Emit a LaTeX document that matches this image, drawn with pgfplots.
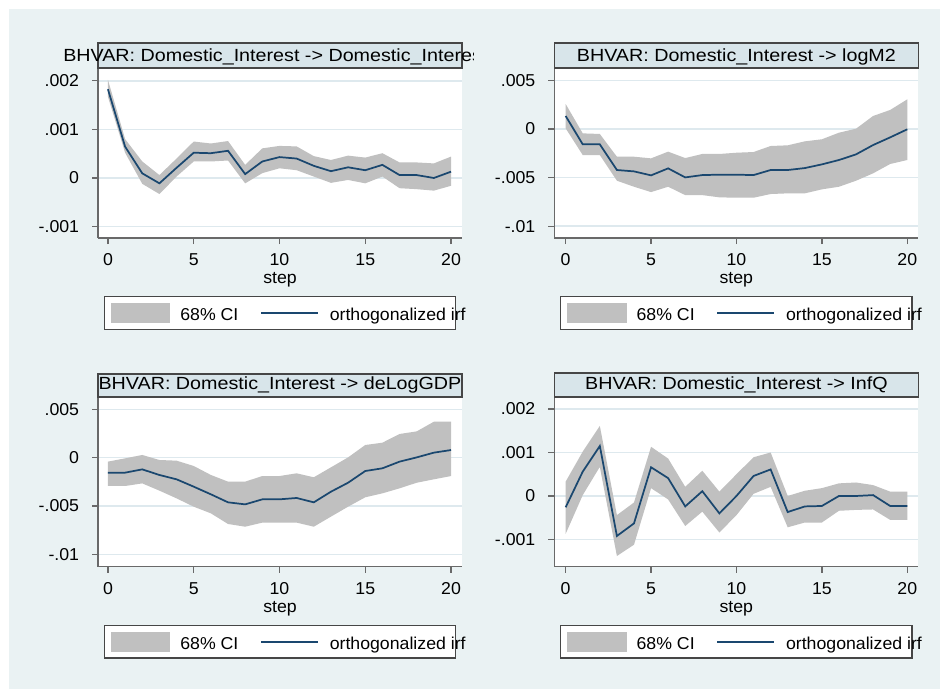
\documentclass[border=0pt]{standalone}
\usepackage{fontspec}
\setmainfont{Liberation Sans}[FakeStretch=1.03]
\newfontfamily\titlefont{Liberation Sans}[FakeStretch=1.12]
\usepackage{pgfplots}
\pgfplotsset{compat=1.18}
\usepackage{pgfplotstable}
\usepgfplotslibrary{fillbetween}

\definecolor{bgblue}{RGB}{234,242,243}
\definecolor{titlefill}{RGB}{216,229,234}
\definecolor{cigray}{RGB}{192,192,192}
\definecolor{irfblue}{RGB}{26,71,111}
\definecolor{axisgray}{RGB}{105,105,105}
\definecolor{boxgray}{RGB}{70,70,70}
\definecolor{gridblue}{RGB}{222,233,238}
\pagecolor{bgblue}

\newcommand\chartfont{\fontsize{12.9pt}{15pt}\selectfont}
\newcommand\ttlfont{\titlefont\fontsize{13.2pt}{15pt}\selectfont}

\pgfplotstableread{
step irf lo hi
0 0.001826 0.00167 0.00202
1 0.000645 0.00052 0.00080
2 0.000096 -0.00012 0.00034
3 -0.00011 -0.00033 0.00006
4 0.00021 0.00003 0.00040
5 0.00052 0.00034 0.00075
6 0.00051 0.00034 0.00071
7 0.00056 0.00036 0.00076
8 0.00008 -0.00011 0.00027
9 0.00034 0.00010 0.00061
10 0.00043 0.00020 0.00066
11 0.00040 0.00016 0.00065
12 0.00025 0.00003 0.00045
13 0.00014 -0.00010 0.00037
14 0.00022 -0.00004 0.00046
15 0.00016 -0.00011 0.00042
16 0.00027 0.00003 0.00051
17 0.00006 -0.00021 0.00032
18 0.00006 -0.00023 0.00032
19 0.00000 -0.00026 0.00030
20 0.00013 -0.00016 0.00044
}\dataA

\pgfplotstableread{
step irf lo hi
0 0.00134 0.00007 0.00257
1 -0.00158 -0.00268 -0.00045
2 -0.00158 -0.00268 -0.00051
3 -0.00422 -0.00532 -0.00285
4 -0.00436 -0.00594 -0.00285
5 -0.00477 -0.00649 -0.00302
6 -0.00405 -0.00594 -0.00233
7 -0.00498 -0.00680 -0.00299
8 -0.00474 -0.00680 -0.00257
9 -0.00470 -0.00703 -0.00257
10 -0.00470 -0.00707 -0.00244
11 -0.00474 -0.00707 -0.00237
12 -0.00422 -0.00669 -0.00175
13 -0.00422 -0.00662 -0.00168
14 -0.00402 -0.00662 -0.00127
15 -0.00364 -0.00621 -0.00106
16 -0.00319 -0.00594 -0.00038
17 -0.00261 -0.00532 0.00003
18 -0.00165 -0.00456 0.00134
19 -0.00086 -0.00360 0.00196
20 -0.00003 -0.00319 0.00305
}\dataB

\pgfplotstableread{
step irf lo hi
0 -0.00155 -0.00293 -0.00041
1 -0.00155 -0.00293 -0.00007
2 -0.00121 -0.00266 0.00028
3 -0.00179 -0.00341 -0.00024
4 -0.00224 -0.00421 -0.00031
5 -0.00300 -0.00507 -0.00086
6 -0.00379 -0.00576 -0.00179
7 -0.00462 -0.00686 -0.00248
8 -0.00483 -0.00714 -0.00248
9 -0.00431 -0.00672 -0.00190
10 -0.00431 -0.00672 -0.00190
11 -0.00417 -0.00672 -0.00162
12 -0.00462 -0.00714 -0.00203
13 -0.00352 -0.00610 -0.00100
14 -0.00259 -0.00507 0.00003
15 -0.00138 -0.00410 0.00131
16 -0.00110 -0.00369 0.00155
17 -0.00041 -0.00317 0.00245
18 0.00003 -0.00259 0.00272
19 0.00052 -0.00224 0.00372
20 0.00079 -0.00190 0.00372
}\dataC

\pgfplotstableread{
step irf lo hi
0 -0.00026 -0.00087 0.00033
1 0.00056 0.00002 0.00102
2 0.00115 0.00067 0.00161
3 -0.00092 -0.00138 -0.00044
4 -0.00063 -0.00112 -0.00015
5 0.00066 0.00018 0.00113
6 0.00041 -0.00008 0.00086
7 -0.00024 -0.00069 0.00021
8 0.00011 -0.00036 0.00058
9 -0.00040 -0.00084 0.00010
10 0.00000 -0.00044 0.00050
11 0.00046 0.00005 0.00089
12 0.00061 0.00021 0.00100
13 -0.00037 -0.00072 0.00000
14 -0.00024 -0.00061 0.00012
15 -0.00023 -0.00061 0.00018
16 0.00000 -0.00034 0.00029
17 0.00000 -0.00032 0.00031
18 0.00002 -0.00031 0.00025
19 -0.00023 -0.00055 0.00010
20 -0.00023 -0.00055 0.00010
}\dataD

\pgfplotsset{
  irfaxis/.style={
    scale only axis, width=273pt, height=126.75pt, anchor=south west,
    axis lines=left, axis line style={-, draw=axisgray, line width=1.1pt},
    axis background/.style={fill=white},
    tick align=outside, major tick length=4.5pt,
    tick style={draw=axisgray, line width=1pt},
    ymajorgrids, grid style={draw=gridblue, line width=1.1pt},
    xtick={0,5,10,15,20}, xticklabels={0,5,10,15,20},
    minor tick num=0, scaled y ticks=false, scaled x ticks=false,
    tick label style={font=\chartfont},
    yticklabel style={anchor=east, inner sep=0pt, xshift=-9.5pt},
    xticklabel style={anchor=north, inner sep=0pt, yshift=-7pt},
    xlabel={step},
    xlabel style={font=\chartfont, at={(axis description cs:0.5,-0.246)}, anchor=center},
    legend columns=2,
    legend style={at={(0.5,-0.344)}, anchor=north, draw=boxgray, line width=1pt,
      fill=white, inner xsep=5pt, inner ysep=4.7pt, column sep=0pt, row sep=0pt,
      font=\chartfont, cells={anchor=base west}, nodes={inner sep=0pt}},
  },
}

\newcommand\irflegend{%
  \addlegendimage{legend image code/.code={\fill[cigray] (0pt,-1.3pt) rectangle (43.5pt,12.75pt); \path (51pt,0pt);}}
  \addlegendentry{68\% CI}
  \addlegendimage{legend image code/.code={\path (0pt,0pt); \draw[irfblue, line width=1.3pt] (16.5pt,5.8pt) -- (59.25pt,5.8pt); \path (67.5pt,0pt);}}
  \addlegendentry{orthogonalized irf\hspace*{-12.5pt}}
}

\begin{document}
\begin{tikzpicture}
\path (0pt,0pt) rectangle (705pt,-516.75pt);
\fill[white] (0pt,0pt) rectangle (705pt,-6.75pt);
\fill[white] (0pt,0pt) rectangle (6.75pt,-516.75pt);

% title boxes
\filldraw[fill=titlefill, draw=boxgray, line width=1pt] (73.5pt,-32.25pt) rectangle (346.5pt,-51pt);
\filldraw[fill=titlefill, draw=boxgray, line width=1pt] (415.7pt,-32.25pt) rectangle (688.9pt,-51pt);
\filldraw[fill=titlefill, draw=boxgray, line width=1pt] (73.5pt,-280.5pt) rectangle (346.5pt,-297.75pt);
\filldraw[fill=titlefill, draw=boxgray, line width=1pt] (415.7pt,-279.75pt) rectangle (688.9pt,-297.75pt);

\begin{scope}
\clip (0pt,0pt) rectangle (355pt,-100pt);
\node[anchor=base west, inner sep=0pt] at (47.25pt,-46.3pt) {\ttlfont BHVAR: Domestic\_Interest -> Domestic\_Interest};
\end{scope}
\node[anchor=base, inner sep=0pt] at (552.3pt,-46.3pt) {\ttlfont BHVAR: Domestic\_Interest -> logM2};
\node[anchor=base, inner sep=0pt] at (210pt,-292pt) {\ttlfont BHVAR: Domestic\_Interest -> deLogGDP};
\node[anchor=base, inner sep=0pt] at (552.3pt,-292pt) {\ttlfont BHVAR: Domestic\_Interest -> InfQ};

% panel 1
\begin{axis}[irfaxis, at={(73.5pt,-178.5pt)},
  xmin=-0.58, xmax=20.64, ymin=-0.001235, ymax=0.002243,
  ytick={-0.001,0,0.001,0.002}, yticklabels={-.001,0,.001,.002}]
  \addplot[draw=none, name path=hiA, forget plot] table[x=step,y=hi]{\dataA};
  \addplot[draw=none, name path=loA, forget plot] table[x=step,y=lo]{\dataA};
  \addplot[fill=cigray, draw=none, forget plot] fill between[of=hiA and loA];
  \addplot[irfblue, line width=1.3pt, forget plot] table[x=step,y=irf]{\dataA};
  \irflegend
\end{axis}

% panel 2
\begin{axis}[irfaxis, at={(415.7pt,-178.5pt)},
  xmin=-0.667, xmax=20.644, ymin=-0.011214, ymax=0.006173,
  ytick={-0.01,-0.005,0,0.005}, yticklabels={-.01,-.005,0,.005}]
  \addplot[draw=none, name path=hiB, forget plot] table[x=step,y=hi]{\dataB};
  \addplot[draw=none, name path=loB, forget plot] table[x=step,y=lo]{\dataB};
  \addplot[fill=cigray, draw=none, forget plot] fill between[of=hiB and loB];
  \addplot[irfblue, line width=1.3pt, forget plot] table[x=step,y=irf]{\dataB};
  \irflegend
\end{axis}

% panel 3
\begin{axis}[irfaxis, at={(73.5pt,-425pt)},
  xmin=-0.58, xmax=20.64, ymin=-0.011276, ymax=0.006207,
  ytick={-0.01,-0.005,0,0.005}, yticklabels={-.01,-.005,0,.005}]
  \addplot[draw=none, name path=hiC, forget plot] table[x=step,y=hi]{\dataC};
  \addplot[draw=none, name path=loC, forget plot] table[x=step,y=lo]{\dataC};
  \addplot[fill=cigray, draw=none, forget plot] fill between[of=hiC and loC];
  \addplot[irfblue, line width=1.3pt, forget plot] table[x=step,y=irf]{\dataC};
  \irflegend
\end{axis}

% panel 4
\begin{axis}[irfaxis, at={(415.7pt,-425pt)},
  xmin=-0.667, xmax=20.644, ymin=-0.001625, ymax=0.00226,
  ytick={-0.001,0,0.001,0.002}, yticklabels={-.001,0,.001,.002}]
  \addplot[draw=none, name path=hiD, forget plot] table[x=step,y=hi]{\dataD};
  \addplot[draw=none, name path=loD, forget plot] table[x=step,y=lo]{\dataD};
  \addplot[fill=cigray, draw=none, forget plot] fill between[of=hiD and loD];
  \addplot[irfblue, line width=1.3pt, forget plot] table[x=step,y=irf]{\dataD};
  \irflegend
\end{axis}
\end{tikzpicture}
\end{document}
